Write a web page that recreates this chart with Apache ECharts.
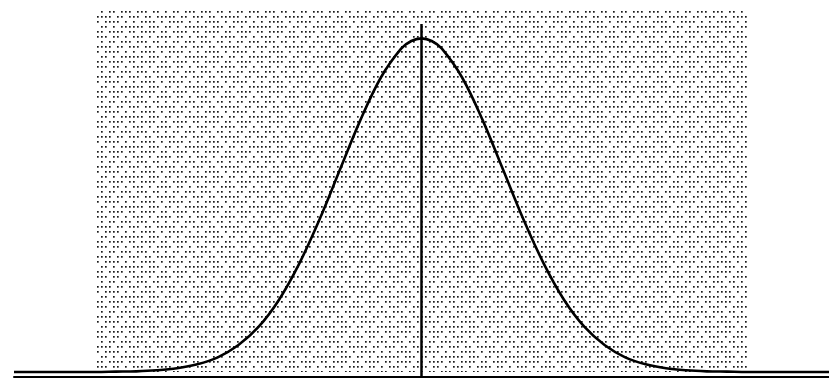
<!DOCTYPE html>
<html lang="en">
  <head>
    <meta charset="UTF-8" />
    <title>Normal curve</title>
    <script src="https://cdn.jsdelivr.net/npm/echarts@6.0.0/dist/echarts.min.js"></script>
    <style>
      html, body { margin: 0; padding: 0; background: #fff; }
      #main { width: 829px; height: 379px; }
    </style>
  </head>
  <body>
    <div id="main"></div>
    <script>
      // readings of the curve, x in standard deviations from the centre
      const xValues = [
        -5, -4.75, -4.5, -4.25, -4, -3.75, -3.5, -3.25, -3, -2.75, -2.5, -2.25,
        -2, -1.75, -1.5, -1.25, -1, -0.75, -0.5, -0.25, -0.125, 0, 0.125, 0.25,
        0.5, 0.75, 1, 1.25, 1.5, 1.75, 2, 2.25, 2.5, 2.75, 3, 3.25, 3.5, 3.75,
        4, 4.25, 4.5, 4.75, 5,
      ];
      const yValues = [
        0, 0, 0, 0, 0, 0.001, 0.002, 0.005, 0.011, 0.023, 0.044, 0.08, 0.135,
        0.216, 0.325, 0.458, 0.607, 0.755, 0.882, 0.969, 0.992, 1, 0.992, 0.969,
        0.882, 0.755, 0.607, 0.458, 0.325, 0.216, 0.135, 0.08, 0.044, 0.023,
        0.011, 0.005, 0.002, 0.001, 0, 0, 0, 0, 0,
      ];
      const meanX = 0;
      const meanLineTop = 1.043;
      const shadedRange = [-4, 4];
      const shadedTop = 1.085;

      // stipple texture for the shaded block
      function makeStipple() {
        const rows = [
          "1101111011011110",
          "0111010111101101",
          "1011101101011011",
          "1110110111110110",
          "0101111010111101",
          "1111011101101011",
        ];
        const dx = 4, dy = 5;
        const c = document.createElement("canvas");
        c.width = rows[0].length * dx;
        c.height = rows.length * dy;
        const ctx = c.getContext("2d");
        ctx.fillStyle = "#1a1a1a";
        rows.forEach((row, j) => {
          for (let i = 0; i < row.length; i++) {
            if (row[i] === "1") ctx.fillRect(i * dx + 1, j * dy + 1, 1.7, 1.7);
          }
        });
        return c;
      }

      const chart = echarts.init(document.getElementById("main"));
      chart.setOption({
        animation: false,
        grid: { left: 14, width: 820, top: 5, bottom: 2 },
        xAxis: {
          type: "value",
          min: -5,
          max: 5,
          axisLine: {
            show: true,
            onZero: false,
            lineStyle: { color: "#000", width: 2 },
          },
          axisTick: { show: false },
          axisLabel: { show: false },
          splitLine: { show: false },
        },
        yAxis: {
          type: "value",
          min: -0.015,
          max: 1.1,
          show: false,
          splitLine: { show: false },
        },
        series: [
          {
            type: "line",
            smooth: 0.35,
            showSymbol: false,
            lineStyle: { color: "#000", width: 2.6 },
            data: xValues.map((x, i) => [x, yValues[i]]),
            markArea: {
              silent: true,
              z: 0,
              itemStyle: {
                color: { image: makeStipple(), repeat: "repeat" },
              },
              data: [
                [
                  { coord: [shadedRange[0], 0] },
                  { coord: [shadedRange[1], shadedTop] },
                ],
              ],
            },
            markLine: {
              silent: true,
              symbol: ["none", "none"],
              label: { show: false },
              lineStyle: { color: "#000", width: 2.5, type: "solid" },
              data: [
                [
                  { coord: [meanX, -0.015] },
                  { coord: [meanX, meanLineTop] },
                ],
              ],
            },
          },
        ],
      });
    </script>
  </body>
</html>
